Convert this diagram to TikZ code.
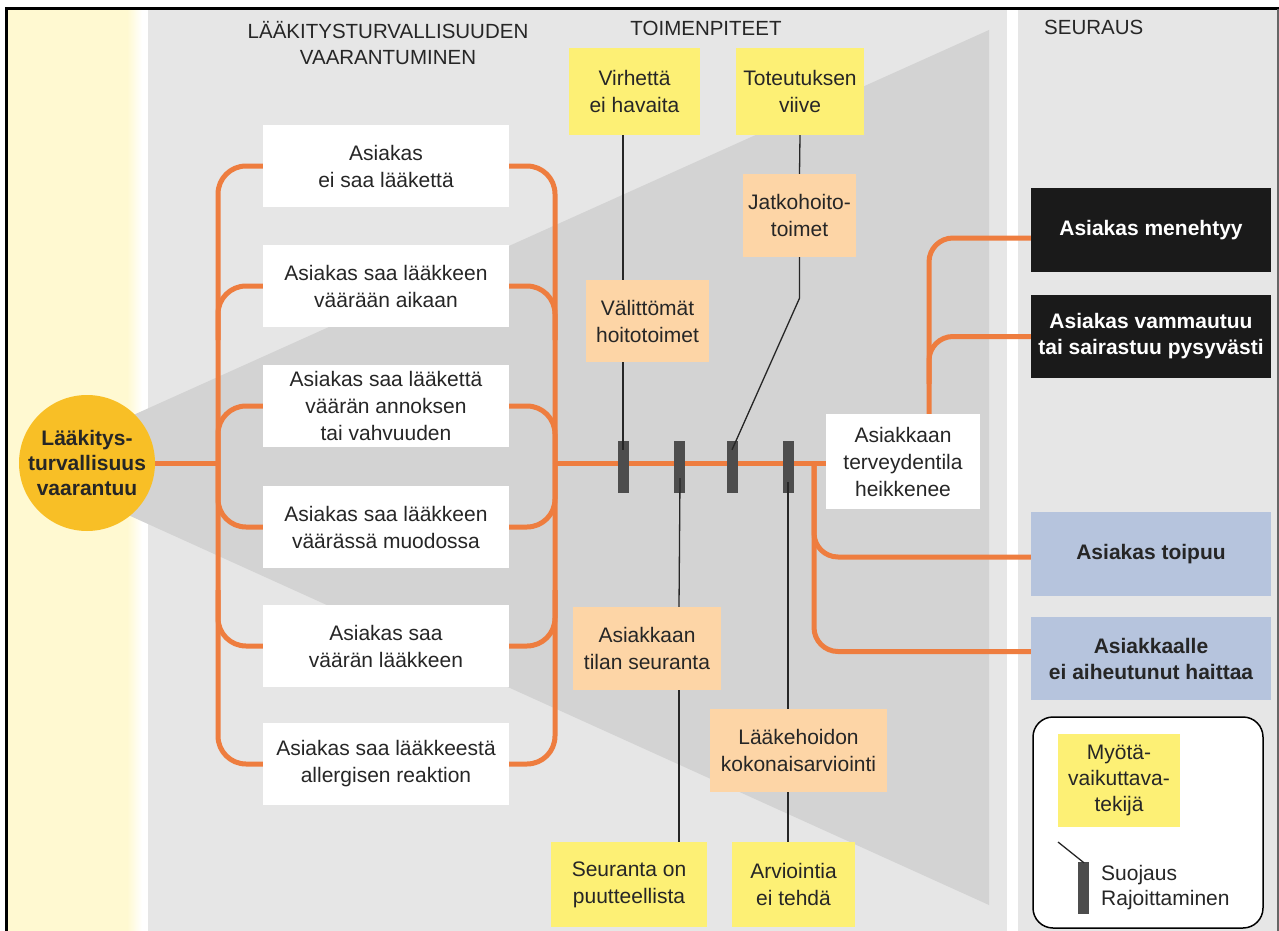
\documentclass[tikz,border=0pt]{standalone}
\usepackage{fontspec}
\setmainfont{Liberation Sans}
\usetikzlibrary{calc}

\definecolor{bandyellow}{HTML}{FFF9D1}
\definecolor{panelgray}{HTML}{E6E6E6}
\definecolor{wedgegray}{HTML}{D3D3D3}
\definecolor{flow}{HTML}{EE7D3F}
\definecolor{factor}{HTML}{FDF075}
\definecolor{action}{HTML}{FDD5A6}
\definecolor{hazard}{HTML}{F8BF26}
\definecolor{good}{HTML}{B6C4DD}
\definecolor{bad}{HTML}{1A1A1A}
\definecolor{barrier}{HTML}{4D4D4D}
\definecolor{ink}{HTML}{262626}

\tikzset{
  base/.style={inner sep=0pt, align=center, text=ink, font=\fontsize{21}{27}\selectfont},
  event/.style={base, fill=white, minimum width=246pt, minimum height=82pt},
  factorbox/.style={base, fill=factor},
  actionbox/.style={base, fill=action},
  outcome/.style={base, minimum width=240pt, minimum height=84pt, font=\fontsize{21}{26}\selectfont\bfseries},
  badbox/.style={outcome, fill=bad, text=white},
  goodbox/.style={outcome, fill=good},
  heading/.style={inner sep=0pt, align=center, text=ink, font=\fontsize{20.5}{26}\selectfont},
  barblock/.style={fill=barrier, minimum width=11pt, minimum height=52pt, inner sep=0pt},
  oline/.style={draw=flow, line width=5pt},
  tline/.style={draw=black!85, line width=1.3pt},
}

\begin{document}
\begin{tikzpicture}[x=1pt,y=-1pt]
\useasboundingbox (0,0) rectangle (1279,931);

% background bands and panels
\fill[white] (0,0) rectangle (1279,931);
\fill[bandyellow] (6,9) rectangle (127,931);
\shade[left color=bandyellow, right color=white] (127,9) rectangle (142,931);
\fill[panelgray] (148,9) rectangle (1007,931);
\fill[panelgray] (1018,9) rectangle (1278,931);

% wedge fanning out from the hazard
\fill[wedgegray] (20,466) -- (989,30) -- (989,905) -- cycle;

% headings
\node[heading] (h1) at (388,43.5) {LÄÄKITYSTURVALLISUUDEN\\VAARANTUMINEN};
\node[heading] (h2) at (706,28) {TOIMENPITEET};
\node[heading, anchor=west] (h3) at (1044,27) {SEURAUS};

% hazard
\node[circle, fill=hazard, minimum size=136pt, inner sep=0pt, align=center, text=ink,
      font=\fontsize{21}{25}\selectfont\bfseries] (hz) at (87,463) {Lääkitys-\\turvallisuus\\vaarantuu};

% threat events
\node[event] (b1) at (386,166) {Asiakas\\ei saa lääkettä};
\node[event] (b2) at (386,286) {Asiakas saa lääkkeen\\väärään aikaan};
\node[event] (b3) at (386,406) {Asiakas saa lääkettä\\väärän annoksen\\tai vahvuuden};
\node[event] (b4) at (386,527) {Asiakas saa lääkkeen\\väärässä muodossa};
\node[event] (b5) at (386,646) {Asiakas saa\\väärän lääkkeen};
\node[event] (b6) at (386,764) {Asiakas saa lääkkeestä\\allergisen reaktion};

% actions and contributing factors
\node[factorbox, minimum width=131pt, minimum height=87pt] (vir) at (634.5,91.5) {Virhettä\\ei havaita};
\node[factorbox, minimum width=128pt, minimum height=87pt] (tot) at (800,91.5) {Toteutuksen\\viive};
\node[actionbox, minimum width=113pt, minimum height=83pt] (jat) at (799.5,215.5) {Jatkohoito-\\toimet};
\node[actionbox, minimum width=123pt, minimum height=82pt] (val) at (647.5,321) {Välittömät\\hoitotoimet};
\node[actionbox, minimum width=148pt, minimum height=83pt] (til) at (647,648.5) {Asiakkaan\\tilan seuranta};
\node[factorbox, minimum width=156pt, minimum height=85pt] (seu) at (629,884.5) {Seuranta on\\puutteellista};
\node[actionbox, minimum width=177pt, minimum height=83pt] (lko) at (798.5,750.5) {Lääkehoidon\\kokonaisarviointi};
\node[factorbox, minimum width=123pt, minimum height=85pt] (arv) at (793.5,884.5) {Arviointia\\ei tehdä};

% top event
\node[base, fill=white, minimum width=154pt, minimum height=95pt] (hk) at (903,461.5) {Asiakkaan\\terveydentila\\heikkenee};

% consequences
\node[badbox] (dead) at (1151,230) {Asiakas menehtyy};
\node[badbox, minimum height=83pt] (vam) at (1151,336.5) {Asiakas vammautuu\\tai sairastuu pysyvästi};
\node[goodbox] (rec) at (1151,554) {Asiakas toipuu};
\node[goodbox, minimum height=83pt] (nh) at (1151,658.5) {Asiakkaalle\\ei aiheutunut haittaa};

% branching flow lines
\coordinate (jl) at (218,463);
\coordinate (jr) at (555,463);
\coordinate (jd) at (814,463);
\draw[oline] (hz.east) -- (jl);
\draw[oline, rounded corners=28pt] (b1.west) -| (jl) |- (b6.west);
\draw[oline, rounded corners=28pt] (b2.west) -| (218,340);
\draw[oline, rounded corners=28pt] (b3.west) -| (jl);
\draw[oline, rounded corners=28pt] (b4.west) -| (jl);
\draw[oline, rounded corners=28pt] (b5.west) -| (218,590);
\draw[oline, rounded corners=28pt] (b1.east) -| (jr) |- (b6.east);
\draw[oline, rounded corners=28pt] (b2.east) -| (555,340);
\draw[oline, rounded corners=28pt] (b3.east) -| (jr);
\draw[oline, rounded corners=28pt] (b4.east) -| (jr);
\draw[oline, rounded corners=28pt] (b5.east) -| (555,590);
\draw[oline] (jr) -- (hk.west |- jr);
\draw[oline, rounded corners=24pt] ($(hk.north)+(26,0)$) |- ($(dead.west)+(0,8)$);
\draw[oline, rounded corners=24pt] ($(hk.north)+(26,-30)$) |- (vam.west);
\draw[oline, rounded corners=24pt] (jd) |- ($(rec.west)+(0,3)$);
\draw[oline, rounded corners=24pt] (jd) |- ($(nh.west)+(0,-7)$);

% barriers on the flow line
\node[barblock] (k1) at (623,467) {};
\node[barblock] (k2) at (679,467) {};
\node[barblock] (k3) at (732,467) {};
\node[barblock] (k4) at (788,467) {};

% links between factors, actions and barriers
\draw[tline] (k1 |- vir.south) -- (k1 |- val.north);
\draw[tline] (k1 |- val.south) -- ($(k1.north)+(0,9)$);
\draw[tline] (tot.south) -- (jat.north);
\draw[tline] (jat.south) -- ++(0,41) -- ($(k3.north)+(0,9)$);
\draw[tline] ($(k2.south)+(1,-15)$) -- (k2 |- til.north);
\draw[tline] (k2 |- til.south) -- (k2 |- seu.north);
\draw[tline] ($(k4.south)+(0,-11)$) -- (k4 |- lko.north);
\draw[tline] (k4 |- lko.south) -- (k4 |- arv.north);

% legend
\node[draw=black, line width=1.5pt, rounded corners=20pt, fill=white,
      minimum width=230pt, minimum height=211pt, inner sep=0pt] (leg) at (1148,822.5) {};
\node[factorbox, minimum width=122pt, minimum height=93pt, font=\fontsize{21}{26}\selectfont] (myo) at (1119,780.5) {Myötä-\\vaikuttava-\\tekijä};
\node[barblock] (lk) at (1083,888) {};
\coordinate (lt) at (1058,842);
\draw[tline] (lt) -- ($(lk.north)+(1,1)$);
\node[base, anchor=west, align=left, font=\fontsize{21}{25}\selectfont] (ltx) at (1101,888) {Suojaus\\Rajoittaminen};

% frame
\draw[line width=3pt] (6,931) -- (6,9) -- (1279,9);
\draw[black!60, line width=1.5pt] (1278,9) -- (1278,931);
\end{tikzpicture}
\end{document}
